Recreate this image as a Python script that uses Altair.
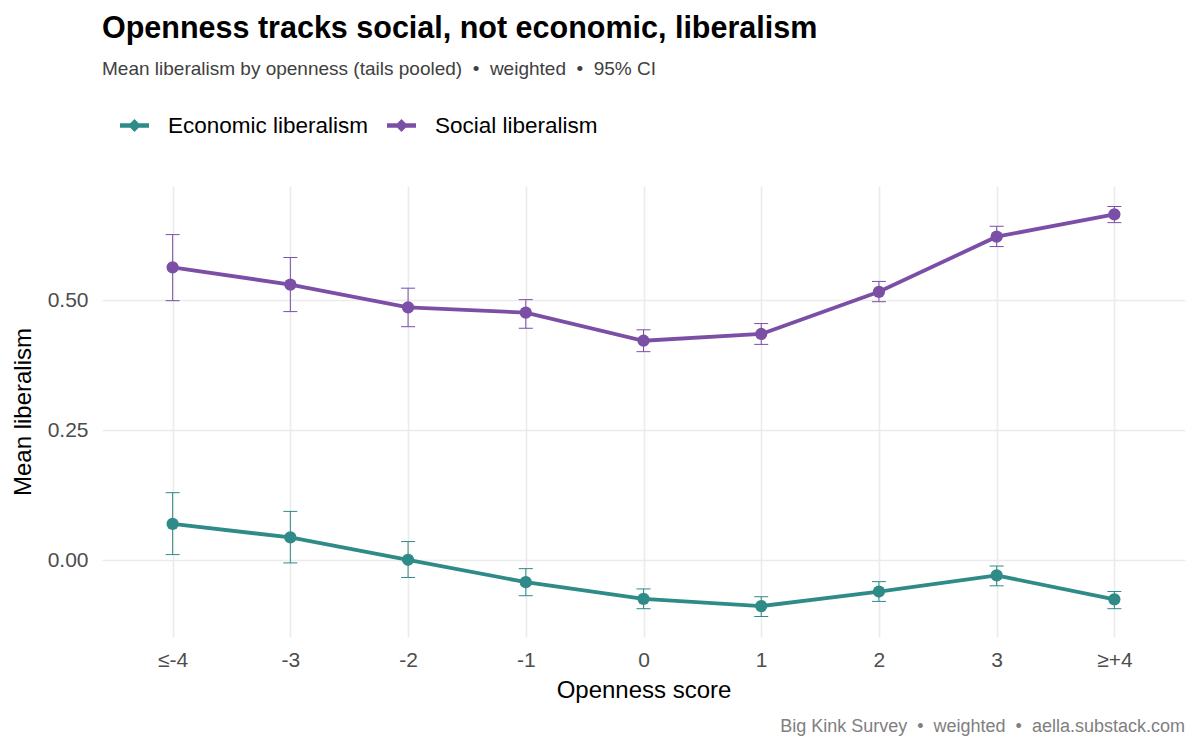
import altair as alt
import pandas as pd

# Openness score bins (tails pooled)
categories = ["≤-4", "-3", "-2", "-1", "0", "1", "2", "3", "≥+4"]

# Economic liberalism: weighted mean and 95% CI
econ_mean = [0.070, 0.044, 0.001, -0.042, -0.074, -0.088, -0.060, -0.029, -0.075]
econ_lo = [0.011, -0.005, -0.033, -0.068, -0.093, -0.108, -0.079, -0.049, -0.093]
econ_hi = [0.130, 0.094, 0.036, -0.016, -0.055, -0.070, -0.041, -0.011, -0.060]

# Social liberalism: weighted mean and 95% CI
soc_mean = [0.563, 0.530, 0.486, 0.476, 0.422, 0.435, 0.516, 0.622, 0.665]
soc_lo = [0.499, 0.478, 0.449, 0.446, 0.401, 0.415, 0.497, 0.603, 0.649]
soc_hi = [0.626, 0.582, 0.523, 0.501, 0.443, 0.455, 0.536, 0.642, 0.680]

series_names = ["Economic liberalism", "Social liberalism"]
series_colors = ["#2E8B88", "#7B4FA6"]

rows = []
for name, m, lo, hi in [
    (series_names[0], econ_mean, econ_lo, econ_hi),
    (series_names[1], soc_mean, soc_lo, soc_hi),
]:
    for c, a, b, d in zip(categories, m, lo, hi):
        rows.append({"series": name, "cat": c, "mean": a, "lo": b, "hi": d})
df = pd.DataFrame(rows)

# y range: data extent plus 5% on each side
lo_all = min(econ_lo + soc_lo)
hi_all = max(econ_hi + soc_hi)
pad = 0.05 * (hi_all - lo_all)
y_domain = [lo_all - pad, hi_all + pad]

FONT = "Liberation Sans"
SEP = "\u00a0\u00a0•\u00a0\u00a0"

x_enc = alt.X(
    "cat:N",
    sort=categories,
    scale=alt.Scale(type="point", padding=0.6),
    axis=alt.Axis(
        title="Openness score",
        labelAngle=0,
        grid=True,
        domain=False,
        ticks=False,
        labelPadding=12,
        titlePadding=8,
    ),
)
y_scale = alt.Scale(domain=y_domain, nice=False, zero=False)
y_enc = alt.Y(
    "mean:Q",
    scale=y_scale,
    axis=alt.Axis(
        title="Mean liberalism",
        values=[0, 0.25, 0.5],
        format=".2f",
        grid=True,
        domain=False,
        ticks=False,
        labelPadding=14,
        titlePadding=12,
    ),
)

# one shared legend: line segment with a marker, as a custom symbol path
legend_spec = alt.Legend(
    title=None,
    orient="none",
    direction="horizontal",
    legendX=18,
    legendY=-75,
    symbolType="M-1,-0.15H1V0.15H-1Z M0,-0.44L0.44,0L0,0.44L-0.44,0Z",
    symbolSize=841,
    symbolStrokeWidth=0,
    labelFontSize=22.5,
    labelColor="#000000",
    labelFont=FONT,
    labelOffset=19,
    labelLimit=400,
    columnPadding=18,
)
color_scale = alt.Scale(domain=series_names, range=series_colors)
stroke_enc = alt.Stroke("series:N", scale=color_scale, legend=legend_spec)
fill_enc = alt.Fill("series:N", scale=color_scale, legend=legend_spec)

base = alt.Chart(df)

bars = base.mark_rule(strokeWidth=1).encode(
    x=x_enc, y=alt.Y("lo:Q", scale=y_scale), y2="hi:Q", stroke=stroke_enc
)
cap_lo = base.mark_rule(strokeWidth=1, xOffset=-7, x2Offset=7).encode(
    x=x_enc, x2="cat:N", y=alt.Y("lo:Q", scale=y_scale), stroke=stroke_enc
)
cap_hi = base.mark_rule(strokeWidth=1, xOffset=-7, x2Offset=7).encode(
    x=x_enc, x2="cat:N", y=alt.Y("hi:Q", scale=y_scale), stroke=stroke_enc
)
lines = base.mark_line(strokeWidth=3.8).encode(
    x=x_enc, y=y_enc, stroke=stroke_enc, detail="series:N"
)
points = base.mark_point(filled=True, size=150, opacity=1, shape="circle", strokeWidth=0).encode(
    x=x_enc, y=y_enc, fill=fill_enc
)

caption = alt.Chart(
    pd.DataFrame({"t": ["Big Kink Survey" + SEP + "weighted" + SEP + "aella.substack.com"]})
).mark_text(
    align="right", baseline="alphabetic", fontSize=18, color="#808080", font=FONT
).encode(x=alt.value(1083), y=alt.value(546), text="t:N")

chart = (
    alt.layer(bars, cap_lo, cap_hi, lines, points, caption)
    .properties(
        width=1083,
        height=451,
        autosize=alt.AutoSizeParams(type="none"),
        padding={"left": 102, "top": 186, "right": 15, "bottom": 113},
        title=alt.TitleParams(
            text="Openness tracks social, not economic, liberalism",
            subtitle="Mean liberalism by openness (tails pooled)" + SEP + "weighted" + SEP + "95% CI",
            anchor="start",
            frame="group",
            font=FONT,
            fontSize=30.5,
            fontWeight="bold",
            color="#000000",
            subtitleFont=FONT,
            subtitleFontSize=19,
            subtitleColor="#404040",
            subtitlePadding=16,
            offset=32,
        ),
    )
    .configure(font=FONT)
    .configure_view(stroke=None)
    .configure_axis(
        gridColor="#EBEBEB",
        gridWidth=1.6,
        labelFont=FONT,
        labelFontSize=21,
        labelColor="#4D4D4D",
        titleFont=FONT,
        titleFontSize=24,
        titleFontWeight="normal",
        titleColor="#000000",
    )
)

chart.save("out.html", embed_options={"renderer": "svg", "actions": False})
